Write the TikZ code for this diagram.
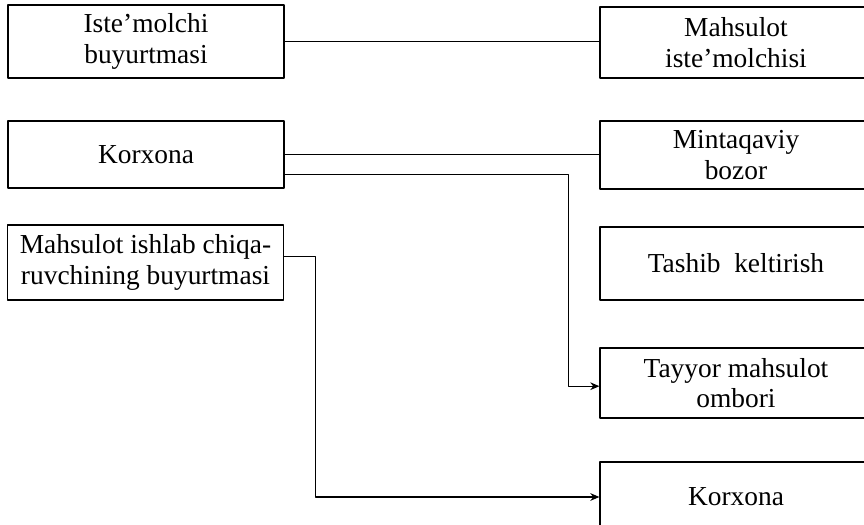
\documentclass[tikz,border=0pt]{standalone}
\usepackage{fontspec}
\setmainfont{Liberation Serif}
\usetikzlibrary{arrows.meta}

\begin{document}
\begin{tikzpicture}[x=.025cm,y=-.025cm,line cap=round,line join=round,
  box/.style={draw,line width=.8pt,minimum width=6.9cm,align=center,inner sep=0pt,
    font=\fontsize{19.5}{21.8}\selectfont},
  link/.style={line width=.8pt},
  tip/.style={-{Stealth[length=6.5pt,width=5.5pt]}}]
  \useasboundingbox (0,0) rectangle (864,525);\clip (0,0) rectangle (864,525);
  % left column
  \node[box,minimum height=1.825cm] (cons) at (146,41.5) {Iste'molchi\\buyurtmasi};
  \node[box,minimum height=1.675cm] (firm) at (146,154.5) {Korxona};
  \node[box,minimum height=1.875cm] (prodord) at (145.5,262.5) {Mahsulot ishlab chiqa-\\ruvchining buyurtmasi};
  % right column
  \node[box,minimum width=6.8cm,minimum height=1.775cm] (user) at (736,42.5) {Mahsulot\\iste'molchisi};
  \node[box,minimum width=6.8cm,minimum height=1.7cm] (market) at (736,155) {Mintaqaviy\\bozor};
  \node[box,minimum width=6.8cm,minimum height=1.825cm] (transport) at (736,263.5) {Tashib\ \ keltirish};
  \node[box,minimum width=6.8cm,minimum height=1.75cm] (store) at (736,383) {Tayyor mahsulot\\ombori};
  \node[box,minimum width=6.8cm,minimum height=1.75cm] (firmb) at (736,497) {Korxona};
  % links
  \draw[link] (cons.east) -- (cons.east -| user.west);
  \draw[link] (firm.east) -- (firm.east -| market.west);
  \draw[link,tip] ([yshift=-.49cm]firm.east) -- ++(284,0) |- ([yshift=-.08cm]store.west);
  \draw[link,tip] ([yshift=.16cm]prodord.east) -- ++(31,0) |- (firmb.west);
\end{tikzpicture}
\end{document}
